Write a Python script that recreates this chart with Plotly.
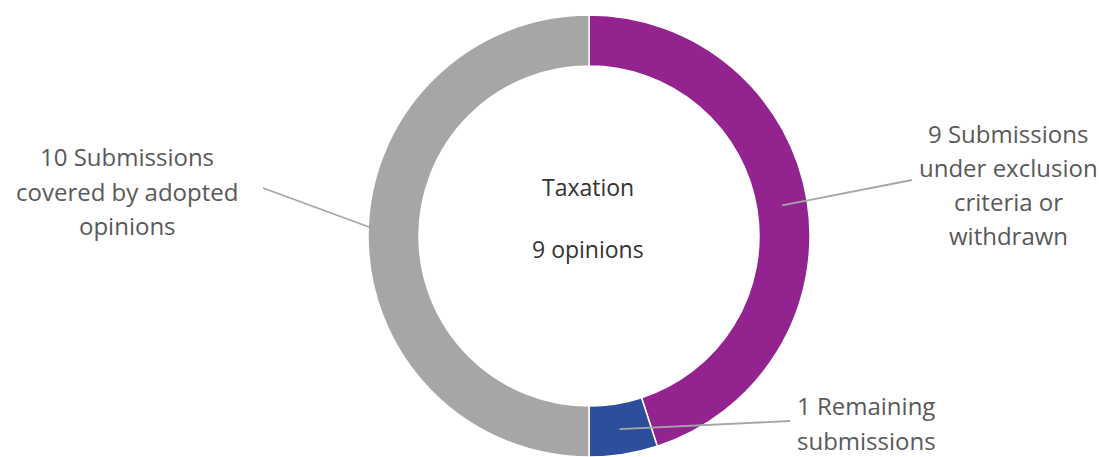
import math
import plotly.graph_objects as go

# Submission outcomes for the Taxation area
categories = [
    "Submissions under exclusion criteria or withdrawn",
    "Remaining submissions",
    "Submissions covered by adopted opinions",
]
values = [9, 1, 10]
colors = ["#93248f", "#2c4f9c", "#a6a6a6"]

# Outside label lines for each slice (same order as categories)
label_lines = [
    ["9 Submissions", "under exclusion", "criteria or", "withdrawn"],
    ["1 Remaining", "submissions"],
    ["10 Submissions", "covered by adopted", "opinions"],
]
center_title = "Taxation"
center_subtitle = "9 opinions"

W, H = 1099, 457
FONT = "Open Sans"

# Donut geometry in pixels
cx, cy = 589, 236
r_out = 221
r_in = 170
hole = r_in / r_out

def px(x):
    return x / W

def py(y):
    return 1 - y / H

fig = go.Figure(
    go.Pie(
        labels=categories,
        values=values,
        hole=hole,
        sort=False,
        direction="clockwise",
        rotation=0,
        marker=dict(colors=colors, line=dict(color="white", width=1.5)),
        textinfo="none",
        hoverinfo="label+value",
        showlegend=False,
        domain=dict(x=[px(cx - r_out), px(cx + r_out)], y=[0, py(cy - r_out)]),
    )
)

# Label anchor positions (center x, first line y, line spacing) in pixels
label_pos = [
    (1008, 133, 34.3),
    (866, 405, 35),
    (127, 157, 34),
]
# Where each leader line ends near its label
leader_end = [(912, 180), (790, 421), (263, 188)]

annotations = []
shapes = []
total = sum(values)
acc = 0
for i, v in enumerate(values):
    mid = (acc + v / 2) / total * 2 * math.pi
    acc += v
    r_mid = (r_out + r_in) / 2
    sx = cx + r_mid * math.sin(mid)
    sy = cy - r_mid * math.cos(mid)
    ex, ey = leader_end[i]
    shapes.append(dict(
        type="line", xref="paper", yref="paper",
        x0=px(sx), y0=py(sy), x1=px(ex), y1=py(ey),
        line=dict(color="#a6a6a6", width=1.8),
    ))
    lx, ly, step = label_pos[i]
    for j, line in enumerate(label_lines[i]):
        annotations.append(dict(
            text=line, xref="paper", yref="paper",
            x=px(lx), y=py(ly + j * step), xanchor="center", yanchor="middle",
            showarrow=False, font=dict(family=FONT, size=24, color="#595959"),
        ))

for text, y in [(center_title, 187), (center_subtitle, 249)]:
    annotations.append(dict(
        text=text, xref="paper", yref="paper",
        x=px(588), y=py(y), xanchor="center", yanchor="middle",
        showarrow=False, font=dict(family=FONT, size=23, color="#333333"),
    ))

fig.update_layout(
    width=W, height=H,
    margin=dict(l=0, r=0, t=0, b=0),
    paper_bgcolor="white", plot_bgcolor="white",
    annotations=annotations, shapes=shapes,
)

fig.write_html("out.html")
